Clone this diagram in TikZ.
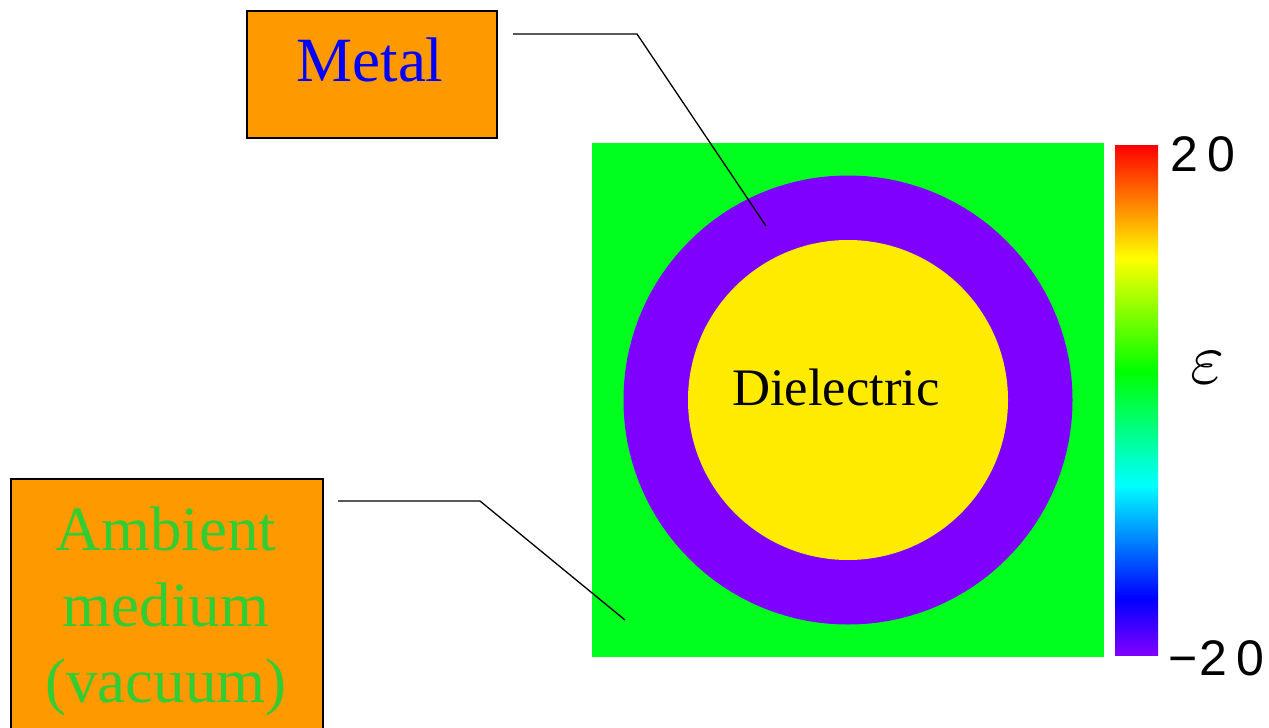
\documentclass[tikz,border=0pt]{standalone}
\usepackage{fontspec}
\usepackage{graphicx}
\setmainfont{Liberation Serif}
\newfontfamily\sansf{Liberation Sans}
\definecolor{boxorange}{RGB}{255,153,0}
\definecolor{ambgreen}{RGB}{0,255,30}
\definecolor{metviolet}{RGB}{128,0,255}
\definecolor{dieyellow}{RGB}{255,235,0}
\definecolor{txtgreen}{RGB}{50,205,50}
\definecolor{txtblue}{RGB}{0,0,255}
\pgfdeclareverticalshading{cbar}{100bp}{color(0bp)=(metviolet); color(25bp)=(metviolet); color(30.56bp)=(blue); color(41.67bp)=(cyan); color(52.78bp)=(green); color(63.89bp)=(yellow); color(75bp)=(red); color(100bp)=(red)}
\tikzset{
  labelbox/.style={draw=black, line width=1.5pt, fill=boxorange, rectangle, inner sep=0pt, anchor=north west},
  leader/.style={draw=black, line width=1.3pt},
  bigserif/.style={font=\fontsize{63}{76}\selectfont, inner sep=0pt},
  barlabel/.style={font=\sansf\fontsize{50}{50}\selectfont, inner sep=0pt, anchor=base west}
}
\begin{document}
\begin{tikzpicture}[x=1pt,y=-1pt]
\clip (0,0) rectangle (1269,728);
\fill[white] (0,0) rectangle (1269,728);
% map
\node[rectangle, fill=ambgreen, inner sep=0pt, minimum width=512, minimum height=514, anchor=north west] (amb) at (592,143) {};
\node[circle, fill=metviolet, inner sep=0pt, minimum size=449] (metal) at (848,400) {};
\node[circle, fill=dieyellow, inner sep=0pt, minimum size=320] (diel) at (848,400) {};
\node[font=\fontsize{52.7}{60}\selectfont, inner sep=0pt, anchor=base] (dieltxt) at (836,405) {Dielectric};
% colorbar
\shade[shading=cbar] (1115,145) rectangle (1158,655);
\node[barlabel] (top) at (1170,171) {2\kern9pt 0};
\node[barlabel] (bot) at (1168,675) {−\kern2pt 2\kern9pt 0};
\node[inner sep=0pt, anchor=base] (eps) at (1208,383) {\scalebox{7.3}{$\varepsilon$}};
% leader lines
\coordinate (m1) at (513,34);
\coordinate (m2) at (637,34);
\coordinate (m3) at (766,226);
\draw[leader] (m1) -- (m2) -- (m3);
\coordinate (a1) at (338,501);
\coordinate (a2) at (480,501);
\coordinate (a3) at (625,620);
\draw[leader] (a1) -- (a2) -- (a3);
% label boxes
\node[labelbox, minimum width=250, minimum height=127] (metalbox) at (246,10) {};
\node[bigserif, text=txtblue, anchor=base] (metaltxt) at (370,81) {Metal};
\node[labelbox, minimum width=312, minimum height=270] (ambbox) at (10,478) {};
\node[bigserif, text=txtgreen, align=center, anchor=north] (ambtxt) at (166,507) {Ambient\\medium\\(vacuum)};
\end{tikzpicture}
\end{document}
